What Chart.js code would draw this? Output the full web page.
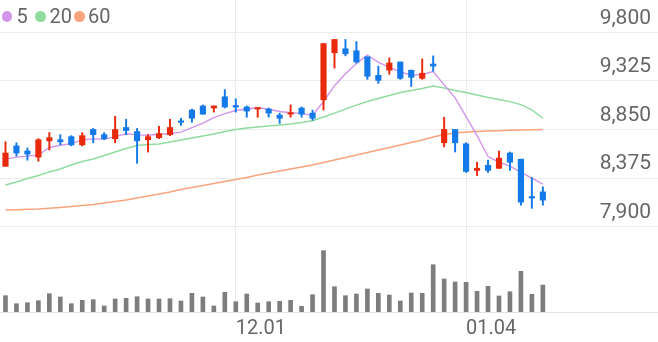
<!DOCTYPE html>
<html>
<head>
<meta charset="utf-8">
<script src="https://cdn.jsdelivr.net/npm/chart.js@4"></script>
<style>
  html, body { margin: 0; padding: 0; background: #fff; }
  #wrap { position: relative; width: 658px; height: 342px; }
  #legend { position: absolute; left: 0; top: 0; font: 20px Roboto, sans-serif; color: #666; }
  #legend span { position: absolute; top: 4px; white-space: nowrap; line-height: 24px; }
  #legend i { position: absolute; top: 11px; width: 10.5px; height: 10.5px; border-radius: 50%; }
</style>
</head>
<body>
<div id="wrap">
  <canvas id="chart"></canvas>
  <div id="legend">
    <i style="left:1.5px;background:#d295ea"></i><span style="left:16.5px">5</span>
    <i style="left:35px;background:#90dc9f"></i><span style="left:49.5px">20</span>
    <i style="left:74px;background:#f8a37c"></i><span style="left:88px">60</span>
  </div>
</div>
<script>
document.addEventListener('DOMContentLoaded', function () {
    // trading days, Nov 2020 - Jan 2021
    const dates = [
        '11.02', '11.03', '11.04', '11.05', '11.06', '11.09', '11.10', '11.11', '11.12', '11.13',
        '11.16', '11.17', '11.18', '11.19', '11.20', '11.23', '11.24', '11.25', '11.26', '11.27', '11.30',
        '12.01', '12.02', '12.03', '12.04', '12.07', '12.08', '12.09', '12.10', '12.11', '12.14',
        '12.15', '12.16', '12.17', '12.18', '12.21', '12.22', '12.23', '12.24', '12.28', '12.29', '12.30',
        '01.04', '01.05', '01.06', '01.07', '01.08', '01.11', '01.12', '01.13'
    ];
    const monthTicks = ['12.01', '01.04'];
    const priceTicks = [7900, 8375, 8850, 9325, 9800];

    const open  = [8490, 8690, 8640, 8580, 8740, 8750, 8780, 8700, 8850, 8800,
                   8760, 8870, 8830, 8750, 8770, 8800, 8930, 9040, 9080, 9060,
                   9170, 9080, 9070, 9050, 9050, 8990, 9000, 9060, 9010, 9140,
                   9600, 9640, 9620, 9560, 9380, 9430, 9510, 9430, 9350, 9490,
                   8720, 8850, 8710, 8450, 8500, 8470, 8620, 8560, 8190, 8240];
    const high  = [8730, 8720, 8670, 8760, 8820, 8800, 8790, 8820, 8860, 8820,
                   8980, 8950, 8860, 8800, 8880, 8950, 8960, 9050, 9090, 9080,
                   9240, 9150, 9080, 9060, 9060, 9010, 9090, 9070, 9040, 9690,
                   9730, 9730, 9710, 9560, 9470, 9550, 9510, 9430, 9540, 9570,
                   8970, 8850, 8720, 8530, 8550, 8640, 8630, 8560, 8380, 8290];
    const low   = [8490, 8590, 8550, 8540, 8650, 8700, 8690, 8690, 8720, 8750,
                   8720, 8800, 8520, 8630, 8760, 8790, 8890, 8920, 9000, 9020,
                   9060, 9020, 8970, 8970, 8970, 8910, 8970, 8970, 8940, 9040,
                   9450, 9570, 9500, 9340, 9300, 9390, 9340, 9270, 9340, 9420,
                   8680, 8630, 8430, 8400, 8430, 8470, 8450, 8110, 8080, 8110];
    const close = [8620, 8620, 8610, 8750, 8770, 8730, 8700, 8790, 8800, 8760,
                   8850, 8840, 8740, 8780, 8810, 8870, 8920, 8960, 9000, 9080,
                   9070, 9070, 9030, 9060, 9010, 8960, 9010, 9000, 8960, 9690,
                   9730, 9590, 9510, 9370, 9330, 9500, 9350, 9360, 9400, 9470,
                   8850, 8720, 8440, 8470, 8450, 8570, 8530, 8140, 8180, 8160];
    const volume = [163000, 83000, 93000, 113000, 183000, 150000, 83000, 117000, 123000, 60000,
                    130000, 137000, 153000, 130000, 130000, 133000, 110000, 187000, 150000, 60000,
                    197000, 103000, 180000, 90000, 103000, 107000, 117000, 57000, 173000, 613000,
                    253000, 163000, 180000, 230000, 187000, 170000, 110000, 190000, 187000, 473000,
                    330000, 300000, 297000, 207000, 257000, 160000, 203000, 407000, 177000, 270000];
    const ma5  = [8560, 8580, 8590, 8600, 8674, 8696, 8712, 8748, 8758, 8756,
                  8780, 8808, 8798, 8794, 8804, 8808, 8824, 8868, 8912, 8966,
                  9006, 9036, 9050, 9062, 9048, 9026, 9014, 9008, 8988, 9124,
                  9278, 9394, 9496, 9578, 9506, 9460, 9412, 9382, 9388, 9416,
                  9286, 9160, 8976, 8790, 8586, 8530, 8492, 8432, 8374, 8316];
    const ma20 = [8308, 8337, 8371, 8400, 8435, 8464, 8503, 8537, 8562, 8596,
                  8630, 8664, 8694, 8703, 8708, 8728, 8747, 8767, 8786, 8806,
                  8830, 8850, 8865, 8874, 8884, 8894, 8904, 8918, 8936, 8972,
                  9011, 9050, 9089, 9124, 9153, 9182, 9212, 9231, 9251, 9275,
                  9256, 9231, 9212, 9187, 9163, 9143, 9122, 9094, 9041, 8960];
    const ma60 = [8063, 8066, 8070, 8073, 8080, 8088, 8097, 8107, 8117, 8132,
                  8146, 8161, 8181, 8200, 8220, 8239, 8264, 8283, 8303, 8322,
                  8342, 8361, 8381, 8405, 8425, 8444, 8464, 8484, 8503, 8527,
                  8552, 8576, 8601, 8625, 8650, 8674, 8699, 8723, 8747, 8777,
                  8801, 8816, 8826, 8830, 8835, 8838, 8842, 8845, 8848, 8850];

    const upColor = '#e8290b';   // red = rise
    const downColor = '#1479e9'; // blue = fall
    const textColor = '#666';
    const gridColor = '#ececec';

    // 10 empty slots on the right
    const labels = dates.concat(new Array(10).fill(''));
    const candleColors = close.map((c, i) => c >= open[i] ? upColor : downColor);

    const lineSet = (label, data, color, order) => ({
        type: 'line', label: label, data: data, yAxisID: 'y', order: order,
        borderColor: color, borderWidth: 1.4, pointRadius: 0, tension: 0, fill: false
    });

    new Chart(document.getElementById('chart'), {
        data: {
            labels: labels,
            datasets: [
                {
                    type: 'bar', label: 'body', order: 0, yAxisID: 'y',
                    data: open.map((o, i) => [o, close[i]]),
                    backgroundColor: candleColors, barThickness: 5.5,
                    minBarLength: 1.5, grouped: false
                },
                {
                    type: 'bar', label: 'wick', order: 1, yAxisID: 'y',
                    data: low.map((l, i) => [l, high[i]]),
                    backgroundColor: candleColors, barThickness: 1.3, grouped: false
                },
                lineSet('5', ma5, '#d295ea', 2),
                lineSet('20', ma20, '#90dc9f', 3),
                lineSet('60', ma60, '#f8a37c', 4),
                {
                    type: 'bar', label: 'volume', order: 5, yAxisID: 'yv',
                    data: volume, backgroundColor: '#7d7d7d',
                    barThickness: 4, grouped: false
                }
            ]
        },
        options: {
            responsive: true,
            maintainAspectRatio: false,
            animation: false,
            layout: { padding: 0 },
            plugins: {
                legend: { display: false },
                tooltip: { enabled: false }
            },
            scales: {
                x: {
                    offset: true,
                    afterFit: scale => { scale.height = 30; },
                    grid: {
                        offset: false,
                        drawTicks: false,
                        color: ctx => monthTicks.includes(labels[ctx.index]) ? gridColor : 'rgba(0,0,0,0)'
                    },
                    border: { display: true, color: '#e2e2e2' },
                    ticks: {
                        autoSkip: false,
                        maxRotation: 0,
                        align: 'start',
                        padding: 5,
                        color: textColor,
                        font: { family: 'Roboto', size: 20 },
                        callback: (v, i) => monthTicks.includes(labels[i]) ? labels[i] : ''
                    }
                },
                y: {
                    position: 'right',
                    min: 7066,
                    max: 10116,
                    afterBuildTicks: scale => { scale.ticks = priceTicks.map(v => ({ value: v })); },
                    afterFit: scale => {
                        scale.width = 0;
                        scale.paddingTop = 0;
                        scale.paddingBottom = 0;
                    },
                    grid: { color: gridColor, drawTicks: false },
                    border: { display: false },
                    ticks: {
                        mirror: true,
                        padding: -7,
                        labelOffset: -14,
                        color: textColor,
                        font: { family: 'Roboto', size: 21 },
                        callback: v => v.toLocaleString('en-US')
                    }
                },
                yv: {
                    display: false,
                    min: 0,
                    max: 3120000
                }
            }
        }
    });
});
</script>
</body>
</html>
